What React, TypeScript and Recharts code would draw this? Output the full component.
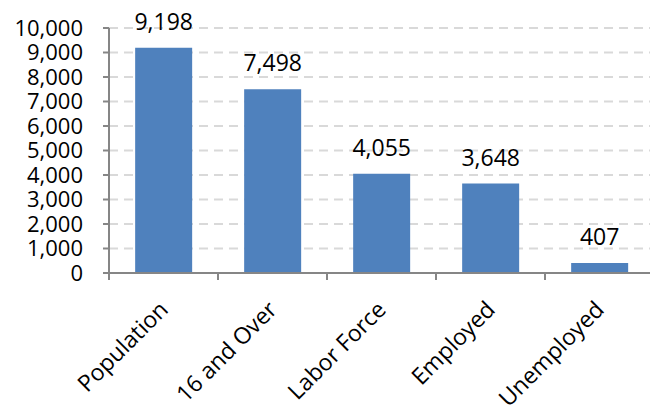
import React from "react";
import { BarChart, Bar, XAxis, YAxis, CartesianGrid, LabelList } from "recharts";

const categories = ["Population", "16 and Over", "Labor Force", "Employed", "Unemployed"];
const values = [9198, 7498, 4055, 3648, 407];
const yTicks = [0, 1000, 2000, 3000, 4000, 5000, 6000, 7000, 8000, 9000, 10000];

const data = categories.map((name, i) => ({ name, value: values[i] }));

const W = 660;
const H = 406;
const M = { top: 28, right: 6, left: 0, bottom: 0 };
const Y_W = 109;
const X_H = 133;
const BAND = (W - M.left - M.right - Y_W) / categories.length;
const FONT = "'Open Sans', sans-serif";
const AXIS = "#868686";

const fmt = (v: number) => v.toLocaleString("en-US");

const XTick = (props: any) => {
  const { x, y, payload, index } = props;
  const ax = x + 6;
  const ay = y + 38;
  return (
    <g>
      <line x1={x - BAND / 2} x2={x - BAND / 2} y1={y} y2={y + 7} stroke={AXIS} strokeWidth={2} />
      {index === categories.length - 1 && (
        <line x1={x + BAND / 2} x2={x + BAND / 2} y1={y} y2={y + 7} stroke={AXIS} strokeWidth={2} />
      )}
      <text
        x={ax}
        y={ay}
        textAnchor="end"
        transform={`rotate(-45, ${ax}, ${ay})`}
        fontSize={23}
        fontFamily={FONT}
        fill="#000"
      >
        {payload.value}
      </text>
    </g>
  );
};

export default function App() {
  return (
    <div style={{ position: "absolute", left: 0, top: 0, width: 650, height: 406, overflow: "hidden", background: "#fff" }}>
      <BarChart width={W} height={H} data={data} margin={M} barCategoryGap="24%">
        <CartesianGrid vertical={false} stroke="#d9d9d9" strokeWidth={2} strokeDasharray="9 6" />
        <XAxis
          dataKey="name"
          height={X_H}
          interval={0}
          tickLine={false}
          tickSize={0}
          tickMargin={0}
          axisLine={{ stroke: AXIS, strokeWidth: 2 }}
          tick={<XTick />}
        />
        <YAxis
          width={Y_W}
          domain={[0, 10000]}
          ticks={yTicks}
          interval={0}
          tickFormatter={fmt}
          tickSize={6}
          tickMargin={20}
          axisLine={{ stroke: AXIS, strokeWidth: 2 }}
          tickLine={{ stroke: AXIS, strokeWidth: 2 }}
          tick={{ fill: "#000", fontSize: 22, fontFamily: FONT }}
        />
        <Bar dataKey="value" fill="#4f81bd" isAnimationActive={false}>
          <LabelList
            dataKey="value"
            position="top"
            offset={18}
            formatter={(v: any) => fmt(Number(v))}
            style={{ fill: "#000", fontSize: 23, fontFamily: FONT }}
          />
        </Bar>
      </BarChart>
    </div>
  );
}
